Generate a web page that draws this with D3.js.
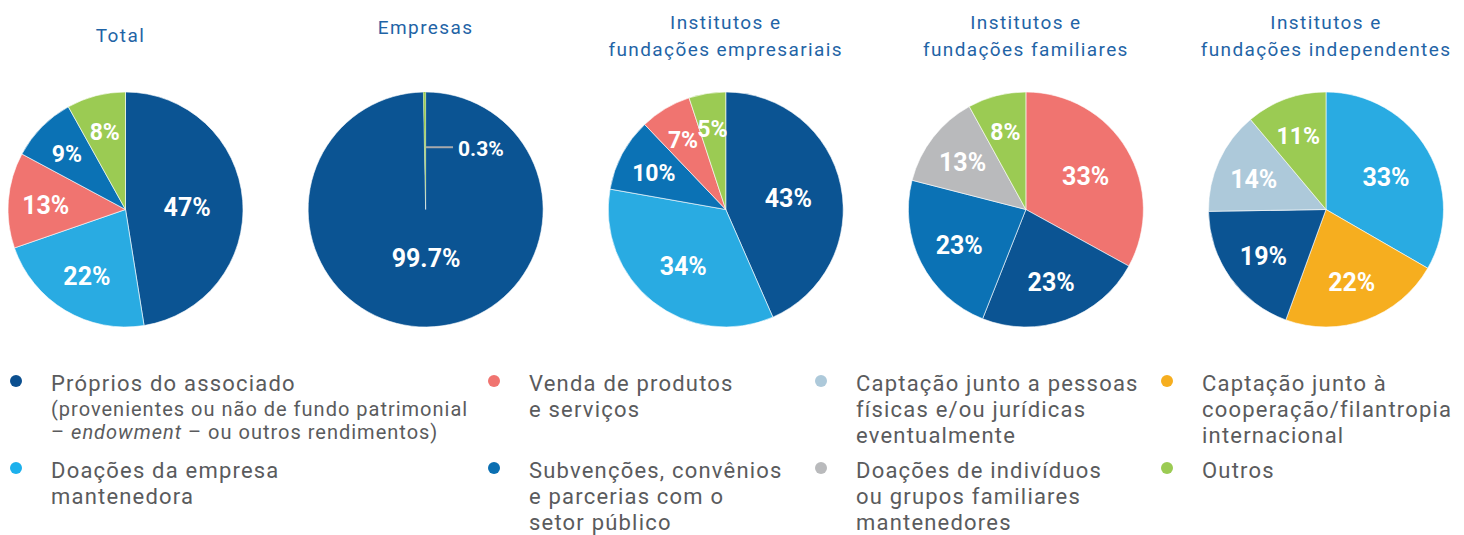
<!DOCTYPE html>
<html>
<head>
<meta charset="utf-8">
<script src="https://cdn.jsdelivr.net/npm/d3@7"></script>
<style>
  body { margin: 0; background: #fff; }
  svg { display: block; }
  .title { font-family: Roboto, sans-serif; font-size: 19px; fill: #1f64a6; letter-spacing: 1.4px; }
  .pct { font-family: Roboto, sans-serif; font-weight: 700; fill: #fff; }
  .leg { font-family: Roboto, sans-serif; fill: #5a5b5d; }
</style>
</head>
<body>
<div id="chart"></div>
<script>
// categories (legend keys, colours, text)
var catKeys = ["proprios", "doacoesEmpresa", "venda", "subvencoes",
               "captacaoPessoas", "doacoesIndividuos", "cooperacao", "outros"];
var catColors = ["#0b5493", "#29abe2", "#f07470", "#0b72b5",
                 "#adc9da", "#b9babc", "#f6ae1f", "#9bcb53"];
var legendDots = ["#0b4f8f", "#1cb0ec", "#f07470", "#0b6fb2",
                  "#adc9da", "#b9babc", "#f6ae1f", "#9bcb53"];
var catLines = [
  ["Próprios do associado", "(provenientes ou não de fundo patrimonial", "– <i>endowment</i> – ou outros rendimentos)"],
  ["Doações da empresa", "mantenedora"],
  ["Venda de produtos", "e serviços"],
  ["Subvenções, convênios", "e parcerias com o", "setor público"],
  ["Captação junto a pessoas", "físicas e/ou jurídicas", "eventualmente"],
  ["Doações de indivíduos", "ou grupos familiares", "mantenedores"],
  ["Captação junto à", "cooperação/filantropia", "internacional"],
  ["Outros"]
];

// the five pies
var chartTitles = [["Total"], ["Empresas"], ["Institutos e", "fundações empresariais"],
                   ["Institutos e", "fundações familiares"], ["Institutos e", "fundações independentes"]];

var totalKeys = ["proprios", "doacoesEmpresa", "venda", "subvencoes", "outros"];
var totalValues = [47, 22, 13, 9, 8];

var empresasKeys = ["proprios", "outros"];
var empresasValues = [99.7, 0.3];

var empresariaisKeys = ["proprios", "doacoesEmpresa", "subvencoes", "venda", "outros"];
var empresariaisValues = [43, 34, 10, 7, 5];

var familiaresKeys = ["venda", "proprios", "subvencoes", "doacoesIndividuos", "outros"];
var familiaresValues = [33, 23, 23, 13, 8];

var independentesKeys = ["doacoesEmpresa", "cooperacao", "proprios", "captacaoPessoas", "outros"];
var independentesValues = [33, 22, 19, 14, 11];

var seriesKeys = [totalKeys, empresasKeys, empresariaisKeys, familiaresKeys, independentesKeys];
var seriesValues = [totalValues, empresasValues, empresariaisValues, familiaresValues, independentesValues];

var W = 1464, H = 535;
var svg = d3.select("#chart").append("svg").attr("width", W).attr("height", H);

var color = d3.scaleOrdinal().domain(catKeys).range(catColors);
var cx = d3.scalePoint().domain(d3.range(5)).range([125.5, 1326]);
var r = 117.5, cy = 209.5;

var pie = d3.pie().sort(null).value(function (d) { return d.value; });
var arc = d3.arc().innerRadius(0).outerRadius(r);

function fontFor(f) {
  if (f < 0.02) return 21;
  if (f >= 0.12) return 25;
  return 23;
}
function fmt(v) { return (Math.round(v) === v ? v : v.toFixed(1)) + "%"; }

var singleTitleY = { 0: 42, 1: 34 };

seriesKeys.forEach(function (keys, i) {
  var ds = keys.map(function (k, j) { return { key: k, value: seriesValues[i][j] }; });
  var sum = d3.sum(ds, function (d) { return d.value; });
  var g = svg.append("g").attr("transform", "translate(" + cx(i) + "," + cy + ")");

  // title
  var lines = chartTitles[i];
  var t = svg.append("text").attr("class", "title").attr("text-anchor", "middle");
  lines.forEach(function (ln, k) {
    var y = lines.length == 1 ? singleTitleY[i] : 29 + k * 27;
    t.append("tspan").attr("x", cx(i) + (i == 0 ? -5 : 0)).attr("y", y).text(ln);
  });

  var arcs = pie(ds);
  g.selectAll("path").data(arcs).enter().append("path")
    .attr("d", arc)
    .attr("fill", function (d) { return color(d.data.key); })
    .attr("stroke", function (d) { return d.data.value / sum < 0.02 ? "none" : "#fff"; })
    .attr("stroke-width", 0.6);

  arcs.forEach(function (d) {
    var f = d.data.value / sum;
    var mid = (d.startAngle + d.endAngle) / 2;
    if (f < 0.02) {
      var rr = r * 0.53;
      var x0 = Math.sin(mid) * rr, y0 = -Math.cos(mid) * rr;
      g.append("line").attr("x1", x0 + 1).attr("y1", y0).attr("x2", x0 + 28).attr("y2", y0)
        .attr("stroke", "#a7a9ac").attr("stroke-width", 2);
      g.append("text").attr("class", "pct").attr("x", x0 + 33).attr("y", y0 + 1)
        .attr("dy", "0.36em").style("font-size", fontFor(f) + "px")
        .text(fmt(d.data.value));
      return;
    }
    var k = Math.max(0.4, 0.74 - 0.45 * f);
    g.append("text").attr("class", "pct").attr("text-anchor", "middle")
      .attr("x", Math.sin(mid) * r * k).attr("y", -Math.cos(mid) * r * k + 2)
      .attr("dy", "0.36em").style("font-size", fontFor(f) + "px")
      .text(fmt(d.data.value));
  });
});

// legend
var colX = [15, 493, 820, 1166];
var rowY = [383, 470];
var lineH = 26;
catKeys.forEach(function (k, i) {
  var col = Math.floor(i / 2), row = i % 2;
  var x = colX[col], y = rowY[row];
  svg.append("circle").attr("cx", x + 1).attr("cy", y - 2).attr("r", 6).attr("fill", legendDots[i]);
  var t = svg.append("text").attr("class", "leg");
  catLines[i].forEach(function (ln, j) {
    var sub = (i == 0 && j > 0);
    var sz = sub ? 20 : 22;
    var ls = sub ? "1px" : "1.2px";
    var yy = sub ? y + 26 + (j - 1) * 23 : y + j * lineH;
    var ts = t.append("tspan").attr("x", x + 36).attr("y", yy).attr("dy", "0.35em")
      .style("font-size", sz + "px").style("letter-spacing", ls);
    if (ln.indexOf("<i>") >= 0) {
      var parts = ln.split(/<\/?i>/);
      ts.text(parts[0]);
      t.append("tspan").style("font-style", "italic").style("font-size", sz + "px").style("letter-spacing", ls).text(parts[1]);
      t.append("tspan").style("font-size", sz + "px").style("letter-spacing", ls).text(parts[2]);
    } else {
      ts.text(ln);
    }
  });
});
</script>
</body>
</html>
